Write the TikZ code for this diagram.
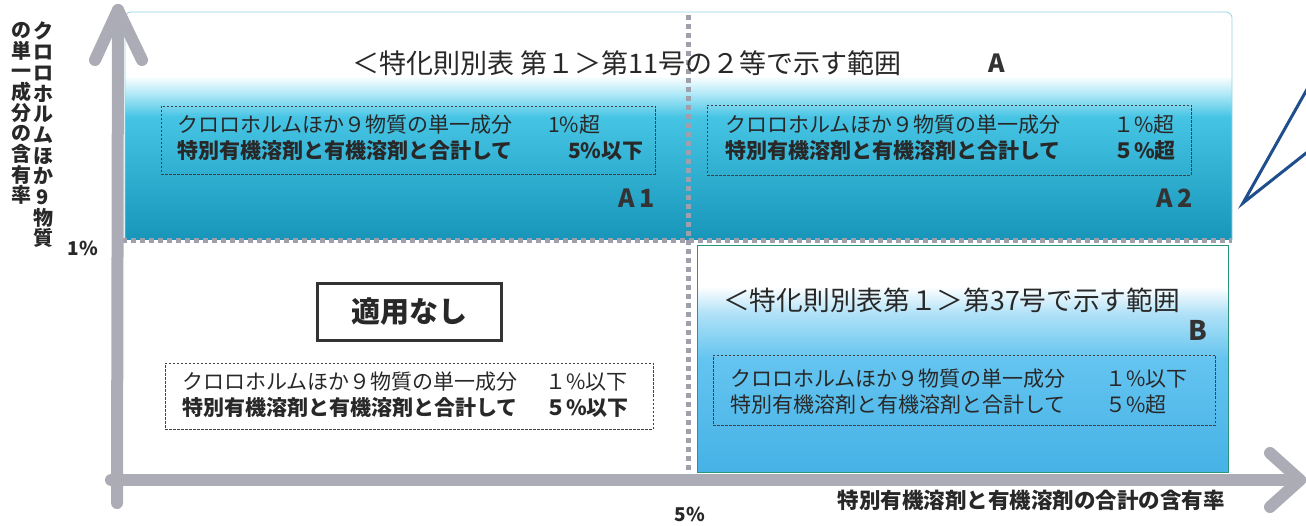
\documentclass[tikz,border=0pt]{standalone}
\usepackage{fontspec}
\newfontfamily\jp{Noto Sans CJK JP}
\definecolor{axisgray}{RGB}{172,172,182}
\definecolor{sepgray}{RGB}{160,160,172}
\definecolor{borderA}{RGB}{150,210,230}
\definecolor{borderB}{RGB}{40,150,120}
\definecolor{calloutblue}{RGB}{30,78,140}
\definecolor{txt}{RGB}{40,40,40}
\definecolor{tealA}{RGB}{24,150,186}
\definecolor{cyanA}{RGB}{70,196,228}
\definecolor{paleA}{RGB}{175,232,247}
\definecolor{skyB}{RGB}{70,178,230}
\definecolor{midB}{RGB}{100,196,240}
\definecolor{paleB}{RGB}{175,225,247}
\pgfdeclareverticalshading{shA}{100bp}{color(0bp)=(tealA);color(25bp)=(tealA);color(52bp)=(cyanA);color(57bp)=(paleA);color(61bp)=(white);color(100bp)=(white)}
\pgfdeclareverticalshading{shB}{100bp}{color(0bp)=(skyB);color(25bp)=(skyB);color(50bp)=(midB);color(60bp)=(paleB);color(66bp)=(white);color(100bp)=(white)}
\begin{document}
\begin{tikzpicture}[x=1pt,y=-1pt,
  every node/.style={inner sep=0pt, text=txt},
  axisline/.style={draw=axisgray, line width=12pt, line cap=round, line join=round},
  sepline/.style={draw=sepgray, line width=5pt, dash pattern=on 5pt off 4pt},
  dbox/.style={draw=black!75, dash pattern=on 2.5pt off 1.5pt, line width=0.9pt, fill=none},
  boxtext/.style={font=\jp\fontsize{21}{24}\selectfont, anchor=west},
  boxtextb/.style={font=\jp\bfseries\fontsize{21}{24}\selectfont, anchor=west},
  titletext/.style={font=\jp\fontsize{27}{30}\selectfont},
  reglabel/.style={font=\jp\bfseries\fontsize{25}{28}\selectfont, text=black!80},
  axislabel/.style={font=\jp\bfseries\fontsize{19}{21}\selectfont},
  vlabel/.style={font=\jp\bfseries\fontsize{20}{20.7}\selectfont, align=center, anchor=north}]
\useasboundingbox (0,0) rectangle (1306,526);
% region A
\path[shading=shA] (125,12) rectangle (1232,240);
\draw[borderA, line width=0.8pt, rounded corners=6pt] (125,240) |- (1232,12) -- (1232,240);
% region B
\path[shading=shB] (697,246) rectangle (1228,472);
\draw[borderB, line width=1pt] (697,246) rectangle (1228,472);
% separators
\draw[sepline] (122,241) -- (1232,241);
\draw[sepline] (688,15) -- (688,476);
% axes
\coordinate (yb) at (117,503);
\coordinate (yt) at (118,10);
\coordinate (xl) at (111,480);
\coordinate (xr) at (1300,480);
\draw[axisline] (yb) -- (yt);
\draw[axisline] (95,60) -- (yt) -- (142,60);
\draw[axisline] (xl) -- (xr);
\draw[axisline] (1270,453) -- (xr) -- (1270,507);
% callout
\coordinate (cp) at (1243,203);
\draw[calloutblue, line width=3pt, line join=miter] (1310,84) -- (cp) -- (1310,150);
% title A
\node[titletext, anchor=west] (tA) at (352,63) {＜特化則別表 第１＞第11号の２等で示す範囲};
\node[reglabel] (lA) at (997,63) {A};
% A1
\node[dbox, minimum width=494pt, minimum height=68pt] (bA1) at (408,140) {};
\node[boxtext] (a1l1) at (177,125) {クロロホルムほか９物質の単一成分};
\node[boxtext] (a1p1) at (548,125) {1\%超};
\node[boxtextb] (a1l2) at (177,151) {特別有機溶剤と有機溶剤と合計して};
\node[boxtextb] (a1p2) at (568,151) {5\%以下};
\node[reglabel, anchor=east] (lA1) at (655,198) {A\,1};
% A2
\node[dbox, minimum width=484pt, minimum height=70pt] (bA2) at (949,140) {};
\node[boxtext] (a2l1) at (725,125) {クロロホルムほか９物質の単一成分};
\node[boxtext] (a2p1) at (1113,125) {１\%超};
\node[boxtextb] (a2l2) at (725,151) {特別有機溶剤と有機溶剤と合計して};
\node[boxtextb] (a2p2) at (1113,151) {５\%超};
\node[reglabel, anchor=east] (lA2) at (1193,198) {A\,2};
% not applicable
\node[draw=black!80, line width=2.2pt, minimum width=184pt, minimum height=57pt, font=\jp\bfseries\fontsize{29}{32}\selectfont] (na) at (409.5,312) {適用なし};
\node[dbox, minimum width=488pt, minimum height=66pt] (bN) at (409,396) {};
\node[boxtext] (nl1) at (182,382) {クロロホルムほか９物質の単一成分};
\node[boxtext] (np1) at (545,382) {１\%以下};
\node[boxtextb] (nl2) at (182,408) {特別有機溶剤と有機溶剤と合計して};
\node[boxtextb] (np2) at (545,408) {５\%以下};
% B
\node[anchor=west, font=\jp\fontsize{26.7}{30}\selectfont] (tB) at (723,300) {＜特化則別表第１＞第37号で示す範囲};
\node[reglabel, font=\jp\bfseries\fontsize{27}{30}\selectfont] (lB) at (1198,330) {B};
\node[dbox, minimum width=502pt, minimum height=70pt] (bB) at (964,390) {};
\node[boxtext] (bl1) at (730,379) {クロロホルムほか９物質の単一成分};
\node[boxtext] (bp1) at (1105,379) {１\%以下};
\node[boxtext] (bl2) at (730,405) {特別有機溶剤と有機溶剤と合計して};
\node[boxtext] (bp2) at (1105,405) {５\%超};
% axis labels
\node[axislabel] (p1) at (83,248) {1\%};
\node[axislabel] (p5) at (690,514) {5\%};
\node[axislabel, font=\jp\bfseries\fontsize{21.5}{24}\selectfont] (xlab) at (1031,500) {特別有機溶剤と有機溶剤の合計の含有率};
\node[vlabel] (ylabR) at (43,22) {ク\\ロ\\ロ\\ホ\\ル\\ム\\ほ\\か\\9\\物\\質};
\node[vlabel] (ylabL) at (21,22) {の\\単\\一\\成\\分\\の\\含\\有\\率};
\end{tikzpicture}
\end{document}
